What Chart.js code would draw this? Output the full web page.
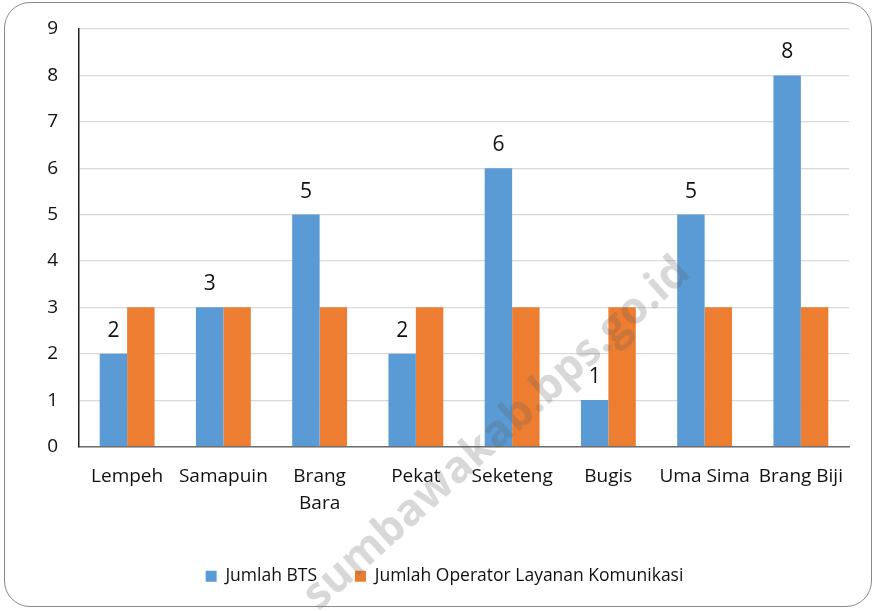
<!DOCTYPE html>
<html>
<head>
<meta charset="utf-8">
<script src="https://cdn.jsdelivr.net/npm/chart.js@4.4.1/dist/chart.umd.min.js"></script>
<style>
  html, body { margin: 0; padding: 0; background: #fff; }
  #wrap { position: relative; width: 877px; height: 611px; }
  #frame { position: absolute; left: 4px; top: 2px; width: 866px; height: 603px;
           border: 1.5px solid #8a8a8a; border-radius: 26px; pointer-events: none; }
  canvas { position: absolute; left: 0; top: 0; }
</style>
</head>
<body>
<div id="wrap">
  <canvas id="c" width="877" height="611"></canvas>
  <div id="frame"></div>
</div>
<script>
const categories = ["Lempeh", "Samapuin", ["Brang", "Bara"], "Pekat", "Seketeng", "Bugis", "Uma Sima", "Brang Biji"];
const jumlahBTS = [2, 3, 5, 2, 6, 1, 5, 8];
const jumlahOperator = [3, 3, 3, 3, 3, 3, 3, 3];
const seriesNames = ["Jumlah BTS", "Jumlah Operator Layanan Komunikasi"];
const watermark = "sumbawakab.bps.go.id";

const FONT = "'Open Sans', 'Noto Sans', sans-serif";

const dataLabels = {
  id: 'dataLabels',
  afterDatasetsDraw(chart) {
    const ctx = chart.ctx;
    const meta = chart.getDatasetMeta(0);
    ctx.save();
    ctx.font = "21px " + FONT;
    ctx.fillStyle = "#111";
    ctx.textAlign = "center";
    ctx.textBaseline = "middle";
    meta.data.forEach((bar, i) => {
      ctx.fillText(String(jumlahBTS[i]), bar.x, bar.y - 23);
    });
    ctx.restore();
  }
};

const legendShift = {
  id: 'legendShift',
  afterLayout(chart) {
    if (chart.legend) { chart.legend.left += 20; chart.legend.right += 20; }
  }
};

const watermarkPlugin = {
  id: 'watermark',
  afterDraw(chart) {
    const ctx = chart.ctx;
    ctx.save();
    ctx.translate(497, 434);
    ctx.rotate(-42 * Math.PI / 180);
    ctx.font = "bold 44px " + FONT;
    ctx.fillStyle = "rgba(90,90,90,0.24)";
    ctx.textAlign = "center";
    ctx.textBaseline = "middle";
    ctx.fillText(watermark, 0, 0);
    ctx.restore();
  }
};

new Chart(document.getElementById('c'), {
  type: 'bar',
  data: {
    labels: categories,
    datasets: [
      { label: seriesNames[0], data: jumlahBTS, backgroundColor: '#5B9BD5', barPercentage: 1.0, categoryPercentage: 0.57 },
      { label: seriesNames[1], data: jumlahOperator, backgroundColor: '#ED7D31', barPercentage: 1.0, categoryPercentage: 0.57 }
    ]
  },
  options: {
    responsive: false,
    animation: false,
    events: [],
    layout: { padding: { top: 29, left: 0, right: 28, bottom: 16 } },
    plugins: {
      legend: {
        position: 'bottom',
        labels: {
          boxWidth: 11, boxHeight: 11, padding: 38,
          color: '#111',
          font: { family: FONT, size: 17.5 }
        }
      },
      tooltip: { enabled: false }
    },
    scales: {
      x: {
        grid: { display: false, drawTicks: false },
        border: { color: '#6e6e6e', width: 1.5 },
        ticks: { color: '#111', font: { family: FONT, size: 19, lineHeight: 1.42 }, padding: 17, maxRotation: 0, autoSkip: false },
        afterFit(s) { s.height = 83; }
      },
      y: {
        min: 0, max: 9,
        grid: { color: '#d9d9d9', lineWidth: 1.2, drawTicks: false },
        border: { color: '#222', width: 1.5 },
        ticks: { stepSize: 1, color: '#111', font: { family: FONT, size: 19 }, padding: 21 },
        afterFit(s) { s.width = 79; s.paddingTop = 10; s.paddingBottom = 10; }
      }
    }
  },
  plugins: [dataLabels, legendShift, watermarkPlugin]
});
</script>
</body>
</html>
